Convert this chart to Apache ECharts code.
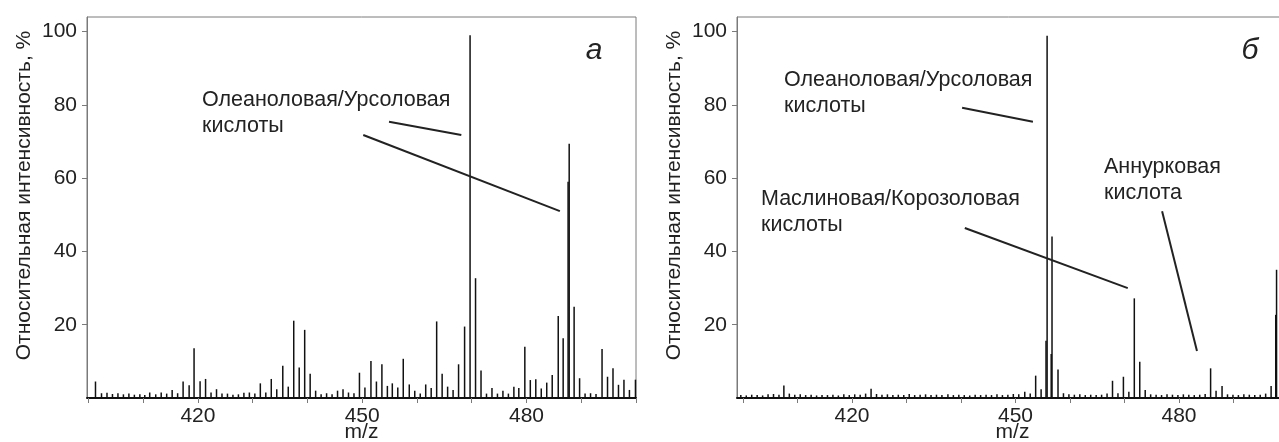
<!DOCTYPE html>
<html>
<head>
<meta charset="utf-8">
<script src="https://cdn.jsdelivr.net/npm/echarts@6/dist/echarts.min.js"></script>
<style>
html,body{margin:0;padding:0;background:#fff;}
#c{width:1279px;height:442px;}
</style>
</head>
<body>
<div id="c"></div>
<script>
// ---- Panel "а" (left) ----
const mzA = [401.3,402.4,403.4,404.4,405.4,406.4,407.4,408.4,409.4,410.3,411.2,412.3,413.3,414.3,415.3,416.3,417.3,418.4,419.3,420.4,421.4,422.4,423.4,424.4,425.4,426.4,427.4,428.4,429.4,430.4,431.4,432.4,433.4,434.4,435.5,436.5,437.5,438.5,439.5,440.5,441.5,442.5,443.5,444.5,445.5,446.5,447.5,448.5,449.5,450.5,451.6,452.6,453.6,454.6,455.5,456.5,457.5,458.6,459.6,460.6,461.6,462.6,463.6,464.6,465.6,466.6,467.6,468.7,469.7,470.7,471.7,472.7,473.7,474.7,475.7,476.7,477.7,478.6,479.7,480.7,481.7,482.7,483.7,484.7,485.8,486.7,487.6,487.8,488.7,489.7,490.7,491.7,492.7,493.8,494.8,495.8,496.8,497.8,498.8,499.9];
const intA = [4.5,1.3,1.4,1.1,1.3,1.0,1.2,0.9,1.0,0.8,1.5,1.0,1.5,1.2,2.2,1.3,4.5,3.5,13.6,4.6,5.2,1.5,2.4,1.2,1.2,0.9,1.0,1.4,1.5,1.2,4.0,1.5,5.2,2.4,8.8,3.1,21.1,8.3,18.6,6.6,2.0,1.0,1.3,1.0,2.0,2.4,1.5,1.3,6.9,2.9,10.1,4.5,9.2,3.3,4.0,2.9,10.7,3.7,2.0,1.2,3.7,2.7,20.9,6.6,3.1,2.2,9.2,19.5,99.0,32.7,7.5,1.2,2.7,1.2,2.0,1.2,3.1,2.7,14.0,4.9,5.1,2.6,4.2,6.3,22.4,16.3,59.0,69.4,24.9,5.4,1.2,1.3,1.1,13.4,5.8,8.1,3.6,5.0,2.2,5.0];

// ---- Panel "б" (right) ----
const mzB = [399.6,400.6,401.6,402.6,403.6,404.6,405.6,406.6,407.5,408.5,409.5,410.5,411.5,412.5,413.5,414.5,415.5,416.5,417.5,418.5,419.5,420.5,421.5,422.5,423.5,424.5,425.5,426.5,427.5,428.5,429.5,430.5,431.5,432.5,433.5,434.5,435.5,436.5,437.6,438.6,439.6,440.6,441.6,442.6,443.6,444.6,445.6,446.6,447.6,448.6,449.6,450.6,451.7,452.7,453.7,454.7,455.6,455.8,456.55,456.7,457.8,458.8,459.8,460.8,461.8,462.8,463.8,464.8,465.8,466.8,467.8,468.8,469.8,470.8,471.8,472.8,473.8,474.8,475.8,476.8,477.8,478.8,479.8,480.8,481.8,482.8,483.8,484.8,485.8,486.8,487.9,488.9,489.9,490.9,491.9,492.9,493.9,494.9,495.9,496.9,497.75,497.9,498.9];
const intB = [0.8,0.7,0.9,0.8,0.7,1.0,1.1,0.9,3.4,1.2,0.9,1.0,0.8,0.9,0.7,0.8,0.8,0.9,0.7,1.0,0.8,1.0,0.9,1.2,2.5,1.1,0.9,1.0,0.8,0.9,0.8,1.1,0.8,0.9,1.0,0.8,0.9,0.8,1.0,0.8,0.9,0.8,0.7,0.9,0.8,0.9,0.8,1.0,0.8,0.9,1.1,1.0,1.7,1.2,6.1,2.4,15.6,98.9,12.0,44.1,7.8,1.3,1.0,0.9,1.0,0.8,0.9,0.8,0.9,1.2,4.7,1.3,5.8,1.7,27.2,9.9,2.2,1.0,0.9,0.8,1.0,0.9,0.8,1.0,0.9,0.8,0.9,1.1,8.1,2.0,3.3,1.0,0.9,0.8,1.0,0.9,0.8,0.9,1.2,3.3,22.7,35.0,1.2];

// ---- Axis ticks / labels ----
const yTicks = [20, 40, 60, 80, 100];
const xTicks = [400, 410, 420, 430, 440, 450, 460, 470, 480, 490, 500];
const xLabels = [420, 450, 480];

// ---- Annotation leader lines (data coordinates) ----
const leadersA = [
  [[454.9, 75.4], [468.1, 71.8]],
  [[450.2, 71.8], [486.1, 51.0]]
];
const leadersB = [
  [[440.2, 79.2], [453.2, 75.4]],
  [[440.7, 46.4], [470.6, 30.0]],
  [[476.9, 51.0], [483.3, 12.8]]
];

const FONT = '"Liberation Sans", Arial, sans-serif';
const TXT = '#222';
const BORDER = '#7a7a7a';
const FS = 21;

function zip(a, b) { return a.map((v, i) => [v, b[i]]); }

function xAxisCfg(idx, min, max) {
  return {
    type: 'value', gridIndex: idx, min: min, max: max,
    name: 'm/z', nameLocation: 'middle', nameGap: 24, nameMoveOverlap: false,
    nameTextStyle: { fontFamily: FONT, fontSize: FS, color: TXT },
    axisLine: { show: true, onZero: false, lineStyle: { color: '#111', width: 2 } },
    axisTick: { show: true, length: 5, customValues: xTicks, lineStyle: { color: BORDER, width: 1 } },
    axisLabel: { show: true, customValues: xLabels, margin: 8, fontFamily: FONT, fontSize: FS, color: TXT },
    splitLine: { show: false }
  };
}
function yAxisCfg(idx) {
  return {
    type: 'value', gridIndex: idx, min: 0, max: 104,
    name: 'Относительная интенсивность, %', nameLocation: 'middle', nameGap: 52,
    nameTextStyle: { fontFamily: FONT, fontSize: FS, color: TXT, padding: [0, 0, 0, 24] },
    axisLine: { show: true, lineStyle: { color: BORDER, width: 1 } },
    axisTick: { show: true, length: 5, customValues: yTicks, lineStyle: { color: BORDER, width: 1 } },
    axisLabel: { show: true, customValues: yTicks, margin: 10, fontFamily: FONT, fontSize: FS, color: TXT },
    splitLine: { show: false }
  };
}
function leaderLines(list) {
  return {
    silent: true, symbol: ['none', 'none'], label: { show: false },
    lineStyle: { color: '#222', width: 2, type: 'solid' },
    emphasis: { disabled: true },
    data: list.map(l => [{ coord: l[0] }, { coord: l[1] }])
  };
}

const chart = echarts.init(document.getElementById('c'), null, { renderer: 'canvas' });
chart.setOption({
  animation: false,
  backgroundColor: '#fff',
  grid: [
    { left: 87, top: 17, width: 549, height: 381, show: true, borderColor: BORDER, borderWidth: 1, containLabel: false, outerBoundsMode: 'none' },
    { left: 737, top: 17, width: 551, height: 381, show: true, borderColor: BORDER, borderWidth: 1, containLabel: false, outerBoundsMode: 'none' }
  ],
  xAxis: [xAxisCfg(0, 399.75, 500), xAxisCfg(1, 398.9, 500)],
  yAxis: [yAxisCfg(0), yAxisCfg(1)],
  series: [
    { type: 'bar', xAxisIndex: 0, yAxisIndex: 0, data: zip(mzA, intA), barWidth: 1.5,
      itemStyle: { color: '#111' }, markLine: leaderLines(leadersA) },
    { type: 'bar', xAxisIndex: 1, yAxisIndex: 1, data: zip(mzB, intB), barWidth: 1.5,
      itemStyle: { color: '#111' }, markLine: leaderLines(leadersB) }
  ],
  graphic: [
    { type: 'text', left: 202, top: 87, style: { text: 'Олеаноловая/Урсоловая\nкислоты', font: '21.5px ' + FONT, fill: TXT, lineHeight: 26 } },
    { type: 'text', x: 594, y: 51, style: { text: 'а', font: 'italic 30px ' + FONT, fill: TXT, align: 'center', verticalAlign: 'middle' } },
    { type: 'text', left: 784, top: 67, style: { text: 'Олеаноловая/Урсоловая\nкислоты', font: '21.5px ' + FONT, fill: TXT, lineHeight: 26 } },
    { type: 'text', left: 761, top: 186, style: { text: 'Маслиновая/Корозоловая\nкислоты', font: '21.5px ' + FONT, fill: TXT, lineHeight: 26 } },
    { type: 'text', left: 1104, top: 154, style: { text: 'Аннурковая\nкислота', font: '21.5px ' + FONT, fill: TXT, lineHeight: 26 } },
    { type: 'text', x: 1250, y: 51, style: { text: 'б', font: 'italic 30px ' + FONT, fill: TXT, align: 'center', verticalAlign: 'middle' } }
  ]
});
</script>
</body>
</html>
